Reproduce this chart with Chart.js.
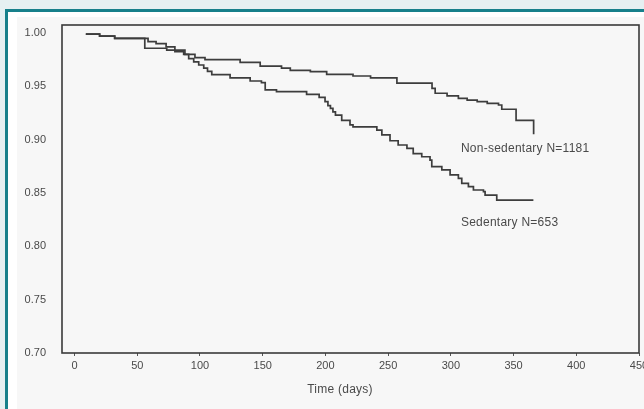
<!DOCTYPE html>
<html>
<head>
<meta charset="utf-8">
<script src="https://cdn.jsdelivr.net/npm/chart.js@4.4.1/dist/chart.umd.min.js"></script>
<style>
  html, body { margin: 0; padding: 0; }
  body { width: 644px; height: 409px; background: #e6f0f2; position: relative; overflow: hidden; }
  #frame { position: absolute; left: 5px; top: 9px; width: 660px; height: 430px;
           border: 3px solid #17808b; background: #ffffff; box-sizing: border-box; }
  #scan { position: absolute; left: 17px; top: 17px; width: 640px; height: 400px; background: #f7f7f7; }
  #wrap { position: absolute; left: 0; top: 0; width: 644px; height: 409px; }
</style>
</head>
<body>
<div id="frame"></div>
<div id="scan"></div>
<div id="wrap"><canvas id="km-chart" width="644" height="409"></canvas></div>
<script>
// survival curves: drop times (days) and survival after each drop
const nonSedTimes = [9, 20, 32, 56, 73.5, 88, 96, 104, 132, 148, 165, 172, 188, 201, 222, 236, 257, 285, 287.5, 297, 306, 313, 321, 329, 338, 340.6, 352, 366];
const nonSedSurv = [0.999, 0.997, 0.995, 0.9857, 0.984, 0.980, 0.977, 0.975, 0.9725, 0.969, 0.967, 0.965, 0.9637, 0.9613, 0.9597, 0.958, 0.953, 0.948, 0.9435, 0.941, 0.9387, 0.937, 0.9356, 0.934, 0.9325, 0.9285, 0.918, 0.905];

const sedTimes = [9, 20, 32, 58.6, 65, 73, 80, 87, 91, 95, 99, 103, 106, 109.4, 124, 140, 149, 152, 161, 185, 195, 199.7, 202, 204, 206, 208, 213, 219.6, 222, 241, 245, 251.5, 258, 265, 270, 276.8, 283.4, 284.8, 292.8, 299.4, 306, 308.7, 314, 318, 326, 327.3, 336.6, 365.8];
const sedSurv = [0.999, 0.997, 0.995, 0.992, 0.990, 0.987, 0.9825, 0.980, 0.976, 0.973, 0.970, 0.967, 0.964, 0.961, 0.958, 0.955, 0.9535, 0.9466, 0.945, 0.9425, 0.9397, 0.9356, 0.932, 0.9294, 0.926, 0.923, 0.918, 0.9138, 0.912, 0.909, 0.9044, 0.899, 0.895, 0.8919, 0.887, 0.884, 0.8809, 0.8747, 0.8716, 0.867, 0.8638, 0.8591, 0.856, 0.8528, 0.8512, 0.848, 0.8434, 0.8434];

const xTicks = [0, 50, 100, 150, 200, 250, 300, 350, 400, 450];
const yTicks = [0.70, 0.75, 0.80, 0.85, 0.90, 0.95, 1.00];

const curveLabels = ["Non-sedentary N=1181", "Sedentary N=653"];
const curveLabelX = [308, 308];
const curveLabelY = [0.892, 0.822];
const xAxisTitle = "Time (days)";

const lineColor = "#3d3d3d";
const textColor = "#4a4a4a";
const fontFamily = "'Liberation Sans', Arial, sans-serif";

function toPoints(times, surv) {
    return times.map((t, i) => ({ x: t, y: surv[i] }));
}

// box around the plot, curve labels and the axis title
const framePlugin = {
    id: "framePlugin",
    afterDraw(chart) {
        const ctx = chart.ctx;
        const a = chart.chartArea;
        const xs = chart.scales.x;
        const ys = chart.scales.y;
        ctx.save();
        ctx.strokeStyle = "#3a3a3a";
        ctx.lineWidth = 1.6;
        ctx.strokeRect(a.left, a.top, a.right - a.left, a.bottom - a.top);
        ctx.fillStyle = textColor;
        ctx.font = "12px " + fontFamily;
        ctx.letterSpacing = "0.25px";
        ctx.textBaseline = "middle";
        ctx.textAlign = "left";
        curveLabels.forEach((txt, i) => {
            ctx.fillText(txt, xs.getPixelForValue(curveLabelX[i]), ys.getPixelForValue(curveLabelY[i]));
        });
        ctx.textAlign = "center";
        ctx.fillText(xAxisTitle, a.left + 278, a.bottom + 37);
        ctx.restore();
    },
};

new Chart(document.getElementById("km-chart"), {
    type: "line",
    data: {
        datasets: [
            {
                label: "Non-sedentary",
                data: toPoints(nonSedTimes, nonSedSurv),
                stepped: "before",
                borderColor: lineColor,
                borderWidth: 1.7,
                pointRadius: 0,
                fill: false,
            },
            {
                label: "Sedentary",
                data: toPoints(sedTimes, sedSurv),
                stepped: "before",
                borderColor: lineColor,
                borderWidth: 1.7,
                pointRadius: 0,
                fill: false,
            },
        ],
    },
    options: {
        responsive: false,
        animation: false,
        layout: {
            padding: { left: 0, top: 25, right: 5, bottom: 0 },
        },
        plugins: {
            legend: { display: false },
            tooltip: { enabled: false },
        },
        scales: {
            x: {
                type: "linear",
                min: -10,
                max: 450,
                afterBuildTicks: (scale) => {
                    scale.ticks = xTicks.map((v) => ({ value: v }));
                },
                afterFit: (scale) => {
                    scale.height = 56;
                    scale.paddingLeft = 0;
                    scale.paddingRight = 0;
                },
                grid: {
                    display: true,
                    drawOnChartArea: false,
                    tickLength: 3,
                    color: "#555",
                },
                border: { display: false },
                ticks: {
                    color: textColor,
                    padding: 3,
                    maxRotation: 0,
                    autoSkip: false,
                    font: { family: fontFamily, size: 11 },
                },
            },
            y: {
                type: "linear",
                min: 0.70,
                max: 1.0075,
                afterBuildTicks: (scale) => {
                    scale.ticks = yTicks.map((v) => ({ value: v }));
                },
                afterFit: (scale) => {
                    scale.width = 62;
                },
                grid: { display: false },
                border: { display: false },
                ticks: {
                    color: textColor,
                    padding: 8,
                    autoSkip: false,
                    callback: (v) => v.toFixed(2),
                    font: { family: fontFamily, size: 11 },
                },
            },
        },
    },
    plugins: [framePlugin],
});
</script>
</body>
</html>
